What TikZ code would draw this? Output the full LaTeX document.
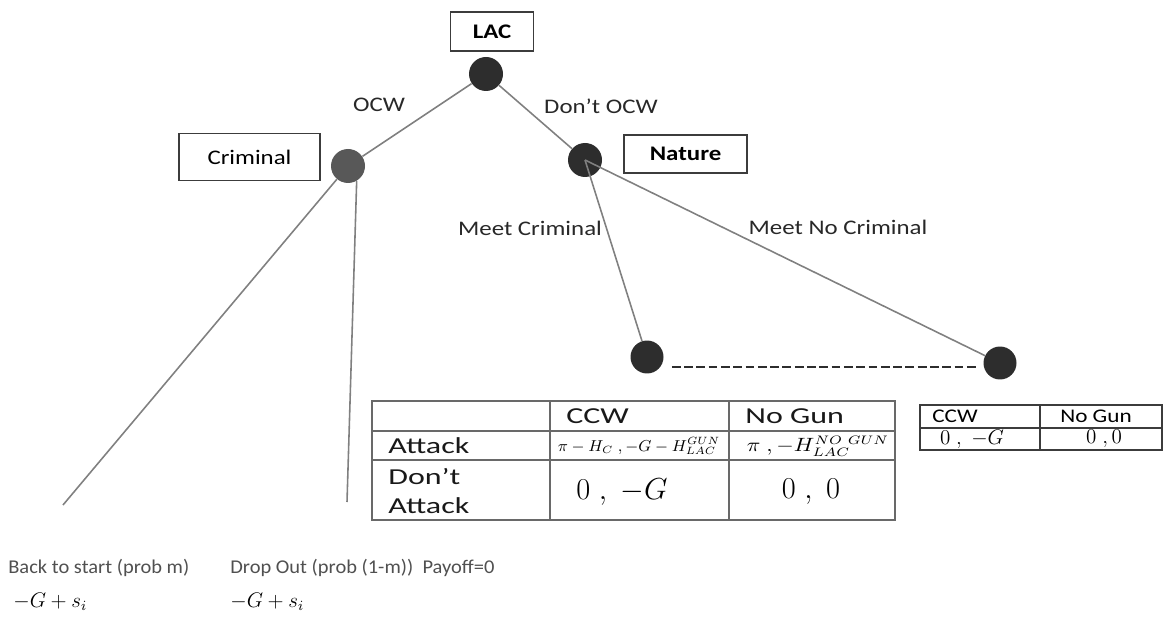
\documentclass[tikz,border=0pt]{standalone}
\usepackage{fontspec}
\setmainfont{Carlito}[FakeStretch=1.2]
\newfontfamily\tabfont{Carlito}[FakeStretch=1.4]
\newfontfamily\basefont{Carlito}[FakeStretch=1.05]
\usepackage{graphicx}
\usepackage{xcolor}
\definecolor{nodedark}{RGB}{45,45,45}
\definecolor{crimgray}{RGB}{88,88,88}
\definecolor{edgegray}{RGB}{128,128,128}
\definecolor{boxline}{RGB}{60,60,60}
\definecolor{tabline}{RGB}{105,105,105}
\definecolor{labeltext}{RGB}{40,40,40}
\definecolor{basetext}{RGB}{80,80,80}
\usepackage{tikz}
\usetikzlibrary{positioning}
\newcommand\wmath[2]{\scalebox{#1}[1]{#2}}

\begin{document}
\begin{tikzpicture}[x=0.02cm,y=-0.02cm,
  dnode/.style={circle,fill=nodedark,minimum size=0.68cm,inner sep=0pt},
  player/.style={draw=boxline,line width=0.8pt,fill=white,inner sep=0pt,text=black},
  branch/.style={edgegray,line width=0.9pt},
  infoset/.style={nodedark,line width=1.2pt,dash pattern=on 5pt off 2pt},
  lbl/.style={text=labeltext,font=\fontsize{11.8}{14}\selectfont},
  tabrule/.style={tabline,line width=1.2pt},
  smallrule/.style={boxline,line width=0.8pt},
  cellhead/.style={anchor=west,inner sep=0pt,text=black!90,font=\tabfont\fontsize{13}{15}\selectfont},
  bottomtxt/.style={anchor=west,inner sep=0pt,text=basetext,font=\basefont\fontsize{11.1}{13}\selectfont}]
\useasboundingbox (0,0) rectangle (1168,617);

% tree nodes
\node[dnode] (lac) at (486,74) {};
\node[dnode,fill=crimgray] (crim) at (348,166) {};
\node[dnode] (nat) at (585,160) {};
\node[dnode,minimum size=0.66cm] (mc) at (647,357) {};
\node[dnode,minimum size=0.66cm] (mnc) at (1000,363) {};

% player boxes
\node[player,minimum width=1.66cm,minimum height=0.78cm,above=0.1cm of lac,xshift=0.12cm,
  font=\bfseries\fontsize{11.8}{14}\selectfont] (lacbox) {LAC};
\node[player,minimum width=2.82cm,minimum height=0.94cm,left=0.2cm of crim,yshift=0.18cm,
  font=\fontsize{11.8}{14}\selectfont] (crimbox) {Criminal};
\node[player,minimum width=2.46cm,minimum height=0.76cm,right=0.42cm of nat,yshift=0.12cm,
  font=\bfseries\fontsize{11.8}{14}\selectfont] (natbox) {Nature};

% branches
\coordinate (backend) at (63,505);
\coordinate (dropend) at (347,502);
\draw[branch] (lac) -- (crim);
\draw[branch] (lac) -- (nat);
\draw[branch] (crim) -- (backend);
\draw[branch] (crim.-60) -- (dropend);
\draw[branch] (nat.center) -- (mc);
\draw[branch] (nat.center) -- (mnc);
\draw[infoset] ([xshift=4.5pt,yshift=-5.7pt]mc.east) -- ([xshift=-3.4pt,yshift=-5.7pt]mc.east -| mnc.west);

% branch labels
\node[lbl] (ocw) at (379,105) {OCW};
\node[lbl] (nocw) at (601,106) {Don’t OCW};
\node[lbl] (meetc) at (530,228) {Meet Criminal};
\node[lbl] (meetnc) at (838,227) {Meet No Criminal};

% payoff table after meeting a criminal
\draw[tabrule] (372,401) rectangle (895,520);
\foreach \x in {550,729} \draw[tabrule] (\x,401) -- (\x,520);
\foreach \y in {431,460} \draw[tabrule] (372,\y) -- (895,\y);
\node[cellhead] (hccw) at (566,416) {CCW};
\node[cellhead] (hnogun) at (745,416) {No Gun};
\node[cellhead] (rattack) at (388,446) {Attack};
\node[cellhead,align=left,font=\tabfont\fontsize{13}{16}\selectfont] (rdont) at (388,491) {Don’t\\Attack};
\node[inner sep=0pt,font=\fontsize{9}{10}\selectfont] (pac) at (639,446)
  {\wmath{1.03}{$\pi - H_C\ , -G - H^{GUN}_{LAC}$}};
\node[inner sep=0pt,font=\fontsize{10.5}{12}\selectfont] (pan) at (818,446)
  {\wmath{1.17}{$\pi\ ,-H^{NO\ GUN}_{LAC}$}};
\node[inner sep=0pt,font=\fontsize{17}{20}\selectfont] (pdc) at (622,492) {$0\;,\;-G$};
\node[inner sep=0pt,font=\fontsize{17}{20}\selectfont] (pdn) at (811,492) {$0\;,\;0$};

% payoff table after meeting no criminal
\draw[smallrule] (920,405) rectangle (1162,450);
\draw[smallrule] (1040,405) -- (1040,450);
\draw[smallrule] (920,428) -- (1162,428);
\node[anchor=west,inner sep=0pt,font=\fontsize{11}{13}\selectfont] (hccwb) at (932,416) {CCW};
\node[inner sep=0pt,font=\fontsize{11}{13}\selectfont] (hnogunb) at (1096,416) {No Gun};
\node[inner sep=0pt,font=\fontsize{13}{15}\selectfont] (pnc) at (972,439) {$0\;,\;-G$};
\node[inner sep=0pt,font=\fontsize{13}{15}\selectfont] (pnn) at (1104,439) {$0\;,0$};

% outcomes of the criminal
\node[bottomtxt] (back) at (8,568) {Back to start (prob m)};
\node[bottomtxt] (drop) at (230,568) {Drop Out (prob (1-m))\ \ Payoff=0};
\node[anchor=west,inner sep=0pt,font=\fontsize{12}{14}\selectfont] (backpay) at (13,602) {$-G + s_i$};
\node[anchor=west,inner sep=0pt,font=\fontsize{12}{14}\selectfont] (droppay) at (230,602) {$-G + s_i$};
\end{tikzpicture}
\end{document}
